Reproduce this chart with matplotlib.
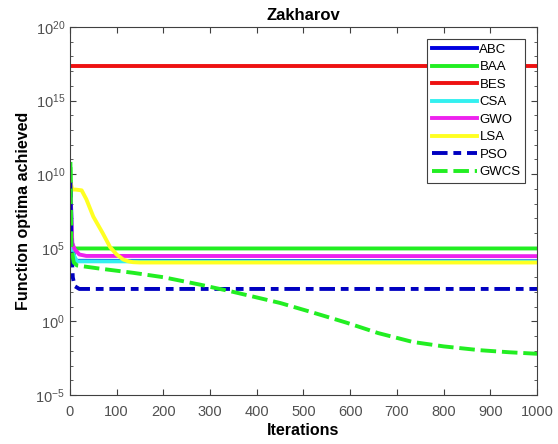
import matplotlib.pyplot as plt
import matplotlib.ticker as mticker
import numpy as np

plt.rcParams['font.family'] = ['Liberation Sans', 'DejaVu Sans']
plt.rcParams['mathtext.fontset'] = 'custom'
plt.rcParams['mathtext.rm'] = 'Liberation Sans'
plt.rcParams['mathtext.it'] = 'Liberation Sans:italic'
plt.rcParams['mathtext.bf'] = 'Liberation Sans:bold'

# convergence curves (iteration, function value)
abc_it = [1, 4, 10, 1000]
abc_val = [3e9, 3e5, 1.3e4, 1.2e4]

baa_it = [1, 3, 1000]
baa_val = [5e10, 9e4, 9e4]

bes_it = [1, 1000]
bes_val = [2.2e17, 2.2e17]

csa_it = [1, 5, 15, 1000]
csa_val = [2e9, 5e4, 1.2e4, 1.15e4]

gwo_it = [1, 5, 10, 20, 35, 1000]
gwo_val = [1e9, 2e5, 8e4, 3.5e4, 2.8e4, 2.7e4]

lsa_it = [1, 5, 12, 25, 35, 50, 70, 86, 100, 114, 125, 135, 150, 1000]
lsa_val = [3e9, 9e8, 9e8, 8e8, 2e8, 1.3e7, 1e6, 1.1e5, 3.5e4, 1.6e4, 1.2e4,
           1.05e4, 1e4, 1e4]

pso_it = [1, 3, 6, 10, 20, 1000]
pso_val = [3e9, 1e5, 1e3, 250, 160, 160]

gwcs_it = [1, 3, 8, 15, 60, 135, 200, 278, 350, 450, 520, 593, 660, 734,
           800, 878, 940, 1000]
gwcs_val = [3e10, 1e5, 1e4, 6.3e3, 4e3, 2e3, 1e3, 316, 100, 17.8, 4, 0.8,
            0.16, 0.04, 0.02, 0.011, 0.008, 0.0063]

names = ['ABC', 'BAA', 'BES', 'CSA', 'GWO', 'LSA', 'PSO', 'GWCS']

fig = plt.figure(figsize=(5.58, 4.44), dpi=100)
ax = fig.add_axes([0.1254, 0.1104, 0.837, 0.8288])

lw = 2.8
ax.semilogy(abc_it, abc_val, color='#0000e0', lw=lw, label=names[0])
ax.semilogy(baa_it, baa_val, color='#22ee22', lw=lw, label=names[1])
ax.semilogy(bes_it, bes_val, color='#ee1111', lw=lw, label=names[2])
ax.semilogy(csa_it, csa_val, color='#33f0f0', lw=lw, label=names[3])
ax.semilogy(gwo_it, gwo_val, color='#ee22ee', lw=lw, label=names[4])
ax.semilogy(lsa_it, lsa_val, color='#ffff22', lw=lw, label=names[5])
ax.semilogy(pso_it, pso_val, color='#0000c0', lw=lw, ls=(0, (4, 1.5, 2, 1.5)),
            label=names[6])
ax.semilogy(gwcs_it, gwcs_val, color='#22ee22', lw=lw, ls=(0, (4, 1.5)),
            label=names[7])

ax.set_xlim(0, 1000)
ax.set_ylim(1e-5, 1e20)
ax.set_xticks(np.arange(0, 1001, 100))
ax.yaxis.set_major_locator(mticker.FixedLocator([1e-5, 1e0, 1e5, 1e10, 1e15, 1e20]))
ax.yaxis.set_minor_locator(mticker.FixedLocator([10.0 ** k for k in range(-5, 21)]))
ax.yaxis.set_minor_formatter(mticker.NullFormatter())

ax.tick_params(which='both', direction='in', top=True, right=True,
               colors='#404040', labelcolor='#505050', labelsize=10.5)
ax.tick_params(axis='x', pad=7)
ax.tick_params(which='major', length=4)
ax.tick_params(which='minor', length=2.5)
for s in ax.spines.values():
    s.set_color('#404040')
    s.set_linewidth(0.8)

ax.set_title('Zakharov', fontsize=12, fontweight='bold', pad=5)
ax.set_xlabel('Iterations', fontsize=11.5, fontweight='bold', labelpad=3)
ax.set_ylabel('Function optima achieved', fontsize=11.5, fontweight='bold',
              labelpad=3)

leg = ax.legend(loc='upper right', fontsize=9.5, handlelength=3.4,
                handletextpad=0.2, labelspacing=0.4, borderpad=0.35,
                borderaxespad=0.9, fancybox=False, framealpha=1,
                edgecolor='#404040')
leg.get_frame().set_linewidth(0.8)

fig.savefig('out.png', dpi=100)
